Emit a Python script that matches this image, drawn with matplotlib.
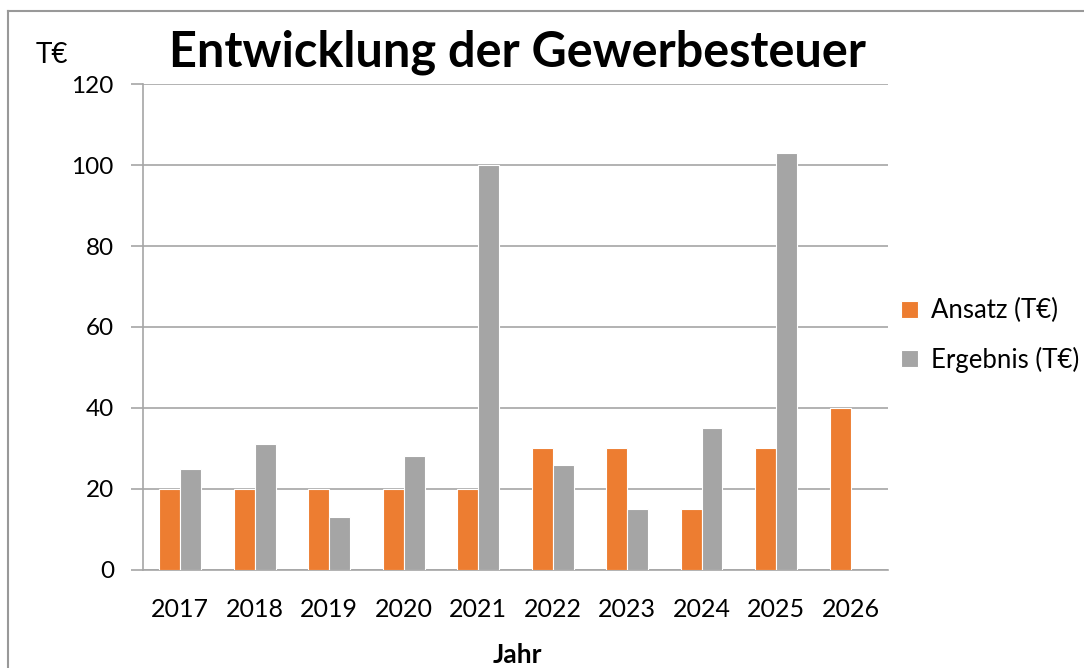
import numpy as np
import matplotlib.pyplot as plt
from matplotlib.lines import Line2D

plt.rcParams['font.family'] = ['Lato', 'DejaVu Sans']

# data
jahre = ['2017', '2018', '2019', '2020', '2021', '2022', '2023', '2024', '2025', '2026']
ansatz = [20, 20, 20, 20, 20, 30, 30, 15, 30, 40]
ergebnis = [25, 31, 13, 28, 100, 26, 15, 35, 103, np.nan]

orange = '#ED7D31'
grau = '#A5A5A5'
linie = '#A6A6A6'

fig = plt.figure(figsize=(10.84, 6.68), dpi=100)
ax = fig.add_axes([0.132, 0.147, 0.687, 0.727])

x = np.arange(len(jahre))
w = 0.28
ax.bar(x - w / 2, ansatz, w, color=orange, edgecolor='white', linewidth=0.8,
       label='Ansatz (T€)', zorder=3)
ax.bar(x + w / 2, ergebnis, w, color=grau, edgecolor='white', linewidth=0.8,
       label='Ergebnis (T€)', zorder=3)

ax.set_xlim(-0.5, len(jahre) - 0.5)
ax.set_ylim(0, 120)
ax.set_yticks(range(0, 121, 20))
ax.set_xticks(x)
ax.set_xticklabels(jahre)
ax.tick_params(axis='y', length=9, color=linie, labelsize=17.5, pad=12, width=1.2)
ax.tick_params(axis='x', length=0, labelsize=18, pad=20)
ax.yaxis.grid(True, color=linie, linewidth=1.2, zorder=0)

for s in ['top', 'right']:
    ax.spines[s].set_visible(False)
for s in ['left', 'bottom']:
    ax.spines[s].set_color(linie)
    ax.spines[s].set_linewidth(1.2)

fig.text(0.477, 0.922, 'Entwicklung der Gewerbesteuer', ha='center', va='center',
         fontsize=35, fontweight='bold')
fig.text(0.048, 0.918, 'T€', ha='center', va='center', fontsize=20)
fig.text(0.477, 0.02, 'Jahr', ha='center', va='center', fontsize=19, fontweight='bold')

fig.legend(loc='center left', bbox_to_anchor=(0.81, 0.498), frameon=False,
           fontsize=18.5, handlelength=0.65, handleheight=0.65, handletextpad=0.5,
           labelspacing=0.9)

# frame around the chart (top and left edges visible)
fig.add_artist(Line2D([8 / 1084, 1], [1 - 11 / 668, 1 - 11 / 668],
                      color='#999999', linewidth=1.5, transform=fig.transFigure))
fig.add_artist(Line2D([8 / 1084, 8 / 1084], [0, 1 - 11 / 668],
                      color='#999999', linewidth=1.5, transform=fig.transFigure))

fig.savefig('out.png', dpi=100)
